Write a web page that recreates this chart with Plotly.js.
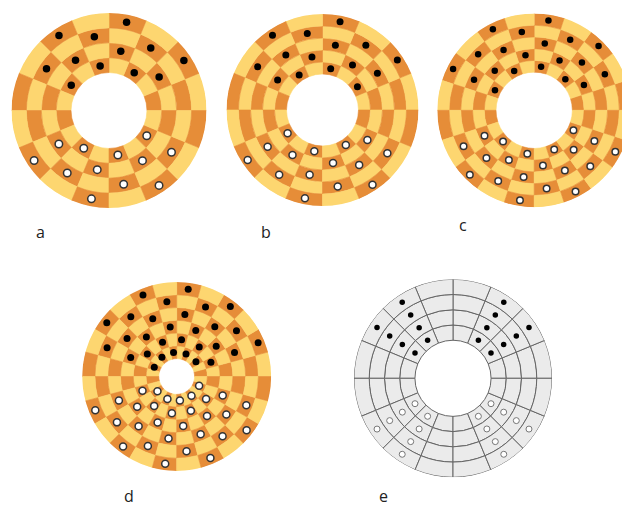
<!DOCTYPE html>
<html>
<head>
<meta charset="utf-8">
<script src="https://cdn.plot.ly/plotly-3.0.1.min.js"></script>
<style>
html,body{margin:0;padding:0;background:#fff;overflow:hidden;width:622px;height:507px;}
#chart{width:640px;height:507px;}
</style>
</head>
<body>
<div id="chart"></div>
<script>
// ---- data ----
const boardLabels   = ['a', 'b', 'c', 'd', 'e'];
const ringCounts    = [4, 5, 5, 6, 4];
const sectorCounts  = [16, 16, 20, 24, 16];
const holeSizes     = [2.55, 3.0, 3.25, 1.4, 2.5];      // hole radius, in ring widths
const darkParity    = [0, 1, 0, 0, -1];                   // dark cell when (ring+sector)%2 == parity; -1 = plain board
const blackSectors  = [[1,2,3,4,5,6], [1,2,3,4,5,6], [1,2,3,4,5,6,7,8], [1,2,3,4,5,6,7,8,9,10], [1,2,5,6]];
const whiteSectors  = [[9,10,11,12,13,14], [9,10,11,12,13,14], [11,12,13,14,15,16,17,18], [13,14,15,16,17,18,19,20,21,22], [9,10,13,14]];
const piecesOnDarkOnly = [true, true, true, true, false];

// ---- layout (pixels in a 640 x 507 canvas) ----
const W = 640, H = 507;
const boardCX = [109, 322.5, 534.2, 176.7, 453];
const boardCY = [110.5, 110, 110.3, 376.5, 378.3];
const boardR  = [97.5, 96, 96.9, 94.5, 99];
const labelX  = [40, 266, 463, 129, 383];
const labelY  = [232, 232, 225, 495.5, 495.5];
const dotSize = [7.5, 7, 6.5, 7, 5.5];

const ORANGE = '#E68D38', YELLOW = '#FDD670', GREY = '#EBEBEB', GRIDLINE = '#666666';

const traces = [];
const layout = {
  width: W, height: H,
  margin: {l: 0, r: 0, t: 0, b: 0},
  paper_bgcolor: '#ffffff',
  showlegend: false,
  hovermode: false,
  annotations: []
};

boardLabels.forEach((lab, b) => {
  const pid = b === 0 ? 'polar' : 'polar' + (b + 1);
  const nR = ringCounts[b], nS = sectorCounts[b], h = holeSizes[b];
  const w = 360 / nS;
  const plain = darkParity[b] < 0;
  const theta = [], base = [], rr = [], fill = [];
  for (let r0 = 0; r0 < nR; r0++) {
    for (let s = 0; s < nS; s++) {
      theta.push((s + 0.5) * w);
      base.push(h + r0);
      rr.push(1);
      if (plain) fill.push(GREY);
      else fill.push(((r0 + s) % 2) === darkParity[b] ? ORANGE : YELLOW);
    }
  }
  traces.push({
    type: 'barpolar', subplot: pid,
    theta: theta, r: rr, base: base, width: theta.map(() => w),
    marker: {color: fill, line: plain ? {color: GRIDLINE, width: 1} : {color: fill, width: 0.6}},
    hoverinfo: 'skip'
  });

  // pieces
  const addPieces = (sectors, isBlack) => {
    const th = [], rp = [];
    for (let r0 = 0; r0 < nR; r0++) {
      sectors.forEach(s => {
        if (piecesOnDarkOnly[b] && ((r0 + s) % 2) !== darkParity[b]) return;
        th.push((s + 0.5) * w);
        rp.push(h + r0 + 0.5);
      });
    }
    let marker;
    if (plain) {
      marker = isBlack ? {color: '#000', size: dotSize[b]} :
                         {color: '#fff', size: dotSize[b] + 0.5, line: {color: '#777', width: 1}};
    } else {
      marker = isBlack ? {color: '#000', size: dotSize[b]} :
                         {color: '#fff', size: dotSize[b], line: {color: '#333', width: 1.5}};
    }
    traces.push({type: 'scatterpolar', subplot: pid, mode: 'markers', theta: th, r: rp,
                 marker: marker, hoverinfo: 'skip', cliponaxis: false});
  };
  addPieces(blackSectors[b], true);
  addPieces(whiteSectors[b], false);

  const cx = boardCX[b], cy = boardCY[b], R = boardR[b];
  layout[pid] = {
    domain: {x: [(cx - R) / W, (cx + R) / W], y: [(H - cy - R) / H, (H - cy + R) / H]},
    bgcolor: 'rgba(0,0,0,0)',
    bargap: 0,
    radialaxis: {visible: false, range: [0, h + nR]},
    angularaxis: {visible: false, rotation: 0, direction: 'counterclockwise'}
  };

  layout.annotations.push({
    text: lab, xref: 'paper', yref: 'paper',
    x: labelX[b] / W, y: 1 - labelY[b] / H, xanchor: 'center', yanchor: 'middle',
    showarrow: false, font: {family: 'Open Sans, DejaVu Sans, sans-serif', size: 16, color: '#222'}
  });
});

Plotly.newPlot('chart', traces, layout, {staticPlot: true, displayModeBar: false});
</script>
</body>
</html>
